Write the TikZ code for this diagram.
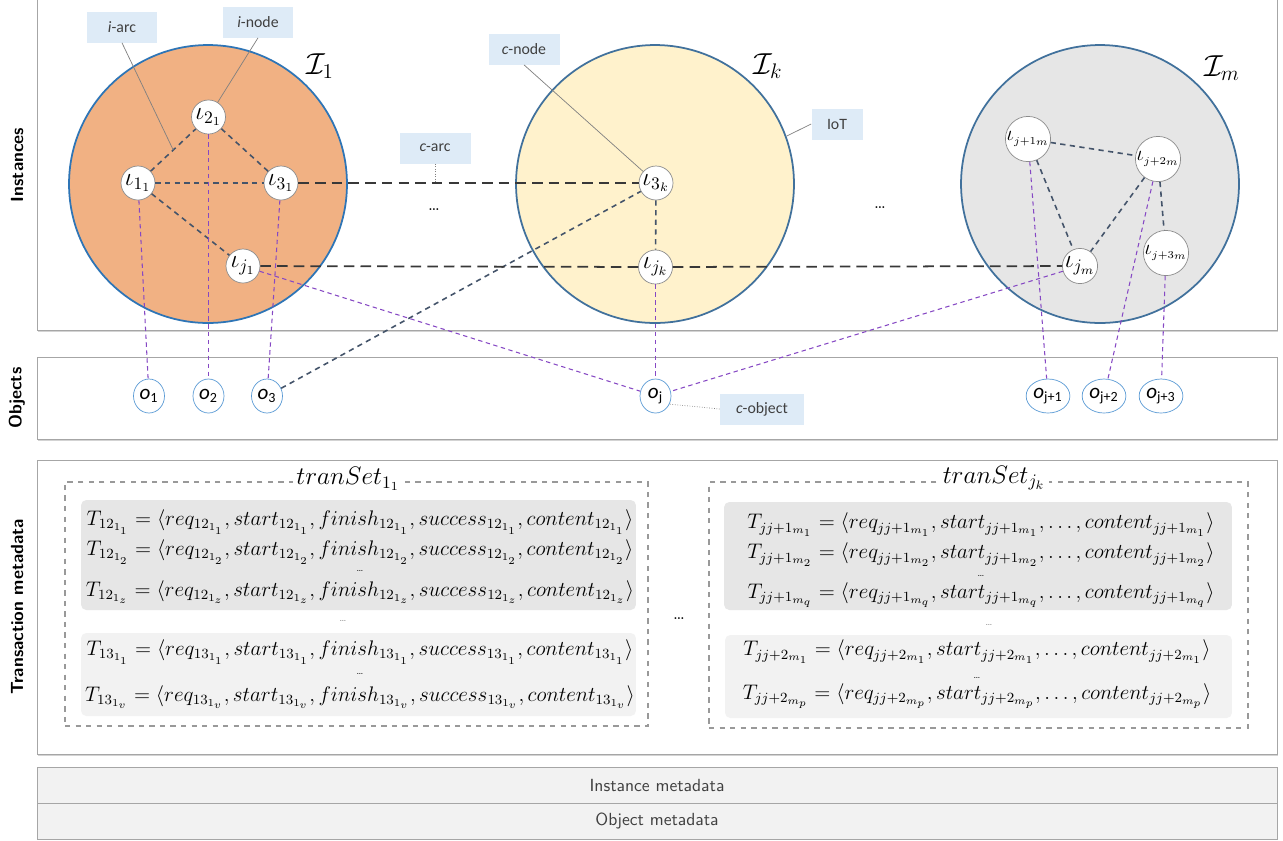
\documentclass[tikz,border=0pt]{standalone}
\usepackage{fontspec}
\newfontfamily\calib{Carlito}
\usepackage{tikz}
\usetikzlibrary{arrows.meta,positioning,shapes.geometric,shadows}
\definecolor{setorange}{RGB}{241,177,131}
\definecolor{setyellow}{RGB}{255,242,204}
\definecolor{setgray}{RGB}{230,230,230}
\definecolor{rimblue}{RGB}{46,117,182}
\definecolor{rimslate}{RGB}{65,113,156}
\definecolor{arcslate}{RGB}{68,84,106}
\definecolor{linkpurple}{RGB}{134,72,196}
\definecolor{objblue}{RGB}{91,155,213}
\definecolor{noteblue}{RGB}{222,235,247}
\definecolor{rowdark}{RGB}{230,230,230}
\definecolor{rowlight}{RGB}{242,242,242}
\definecolor{panelgray}{RGB}{166,166,166}
\newcommand{\trfull}[1]{$T_{#1}=\langle req_{#1},start_{#1},finish_{#1},success_{#1},content_{#1}\rangle$}
\newcommand{\trshort}[1]{$T_{#1}=\langle req_{#1},start_{#1},\ldots,content_{#1}\rangle$}
\tikzset{
  panel/.style={draw=panelgray, fill=white, minimum width=24.8cm, inner sep=0pt,
    drop shadow={shadow xshift=0.6pt, shadow yshift=-1.2pt, opacity=0.35}},
  bar/.style={draw=panelgray, fill=rowlight, minimum width=24.8cm, minimum height=0.72cm,
    inner sep=0pt, font=\sffamily, text=black!75},
  sidelabel/.style={rotate=90, font=\sffamily\bfseries},
  bigset/.style={circle, minimum size=5.56cm, inner sep=0pt, line width=1pt},
  setname/.style={font=\LARGE, inner sep=0pt},
  inst/.style={circle, draw=gray!90, fill=white, minimum size=0.68cm, inner sep=0pt, font=\Large},
  obj/.style={ellipse, draw=objblue, fill=white, minimum width=0.62cm, minimum height=0.68cm,
    inner sep=0.5pt, font=\calib\fontsize{12}{14}\selectfont},
  intra/.style={draw=arcslate, line width=0.9pt, dash pattern=on 3pt off 2.5pt},
  cross/.style={draw=black!78, line width=1pt, dash pattern=on 6pt off 3.5pt},
  link/.style={draw=linkpurple, line width=0.6pt, dash pattern=on 2.5pt off 2pt},
  pointer/.style={draw=gray, line width=0.4pt},
  notebox/.style={fill=noteblue, minimum width=1.42cm, minimum height=0.62cm, inner sep=1pt,
    font=\calib\small, text=black!75},
  setbox/.style={draw=gray!80, dashed, line width=0.7pt, inner sep=0pt},
  rowbox/.style={rounded corners=3pt, inner sep=0pt},
  tline/.style={font=\large, inner sep=0pt},
  rowdots/.style={font=\tiny, inner sep=0pt}
}

\begin{document}
\begin{tikzpicture}[x=0.02cm, y=-0.02cm]
  \useasboundingbox (0,0) rectangle (1283,840);
  % panels
  \node[panel, minimum height=6.72cm] (instpanel) at (657,162) {};
  \node[panel, minimum height=1.64cm] (objpanel) at (657,398) {};
  \node[panel, minimum height=5.88cm] (tranpanel) at (657,607) {};
  \node[bar] (instmeta) at (657,785) {Instance metadata};
  \node[bar] (objmeta) at (657,821) {Object metadata};
  \node[sidelabel] (lblinst) at (17,165) {Instances};
  \node[sidelabel] (lblobj) at (17,398) {Objects};
  \node[sidelabel] (lbltran) at (17,607) {Transaction metadata};

  % instance sets
  \node[bigset, fill=setorange, draw=rimblue] (I1) at (208,184) {};
  \node[bigset, fill=setyellow, draw=rimslate] (Ik) at (655,184) {};
  \node[bigset, fill=setgray, draw=rimslate] (Im) at (1100,184) {};
  \node[setname] (nI1) at (320,66) {$\mathcal{I}_1$};
  \node[setname] (nIk) at (768,66) {$\mathcal{I}_k$};
  \node[setname] (nIm) at (1222,68) {$\mathcal{I}_m$};
  \node (dots1) at (434,210) {\dots};
  \node (dots2) at (880,208) {\dots};

  % instances
  \node[inst] (i21) at (208.5,117) {$\iota_{2_1}$};
  \node[inst] (i11) at (138,183) {$\iota_{1_1}$};
  \node[inst] (i31) at (281,183) {$\iota_{3_1}$};
  \node[inst] (ij1) at (243,266) {$\iota_{j_1}$};
  \node[inst] (i3k) at (656,183) {$\iota_{3_k}$};
  \node[inst] (ijk) at (655.5,267) {$\iota_{j_k}$};
  \node[inst, minimum size=0.64cm, font=\large] (ij1m) at (1028,139) {$\iota_{\scriptscriptstyle j+1_m}$};
  \node[inst, minimum size=0.64cm, font=\large] (ij2m) at (1158,159) {$\iota_{\scriptscriptstyle j+2_m}$};
  \node[inst] (ijm) at (1080,266) {$\iota_{j_m}$};
  \node[inst, minimum size=0.64cm, font=\large] (ij3m) at (1166,253) {$\iota_{\scriptscriptstyle j+3_m}$};

  % objects
  \node[obj] (o1) at (149,396) {\textit{o}\textsubscript{1}};
  \node[obj] (o2) at (208.5,396) {\textit{o}\textsubscript{2}};
  \node[obj] (o3) at (267,396) {\textit{o}\textsubscript{3}};
  \node[obj] (oj) at (655.5,396) {\textit{o}\textsubscript{j}};
  \node[obj] (oj1) at (1048,396) {\textit{o}\textsubscript{j+1}};
  \node[obj] (oj2) at (1104,396) {\textit{o}\textsubscript{j+2}};
  \node[obj] (oj3) at (1161,396) {\textit{o}\textsubscript{j+3}};

  % arcs
  \draw[intra] (i11) -- (i21) coordinate[midway] (a1121);
  \draw[intra] (i21) -- (i31);
  \draw[intra] (i11) -- (i31);
  \draw[intra] (i11) -- (ij1);
  \draw[intra] (i3k) -- (ijk);
  \draw[intra] (ij1m) -- (ij2m);
  \draw[intra] (ij1m) -- (ijm);
  \draw[intra] (ij2m) -- (ijm);
  \draw[intra] (ij2m) -- (ij3m);
  \draw[intra] (o3) -- (i3k);
  \draw[cross] (i31) -- (i3k);
  \draw[cross] (ij1) -- (ijk);
  \draw[cross] (ijk) -- (ijm);
  \draw[link] (i11) -- (o1);
  \draw[link] (i21) -- (o2);
  \draw[link] (i31) -- (o3);
  \draw[link] (ij1) -- (oj);
  \draw[link] (ijk) -- (oj);
  \draw[link] (ijm) -- (oj);
  \draw[link] (ij1m) -- (oj1);
  \draw[link] (ij2m) -- (oj2);
  \draw[link] (ij3m) -- (oj3);

  % callouts
  \node[notebox] (iarc) at (122,27) {\textit{i}-arc};
  \node[notebox] (inode) at (258,22) {\textit{i}-node};
  \node[notebox] (cnode) at (524,49) {\textit{c}-node};
  \node[notebox, minimum width=1.02cm] (iot) at (837,124) {IoT};
  \node[notebox] (carc) at (435,148) {\textit{c}-arc};
  \node[notebox, minimum width=1.68cm] (cobj) at (762,409) {\textit{c}-object};
  \draw[pointer] (iarc.south) -- (a1121);
  \draw[pointer] (inode.south) -- (i21);
  \draw[pointer] (cnode.south) -- (i3k);
  \draw[pointer] (iot.west) -- (Ik.20);
  \draw[pointer, densely dotted] (carc.south) -- (carc.south |- i31);
  \draw[pointer, densely dotted] (cobj.west) -- (oj.-30);

  % transaction sets
  \node[setbox, minimum width=11.66cm, minimum height=4.88cm] (set1) at (356.5,604) {};
  \node[fill=white, font=\Large, inner sep=2pt] (set1name) at (348,479) {$tranSet_{1_1}$};
  \node[rowbox, fill=rowdark, minimum width=11.1cm, minimum height=2.2cm] (rows12) at (358.5,555) {};
  \node[rowbox, fill=rowlight, minimum width=11.1cm, minimum height=1.66cm] (rows13) at (358.5,674.5) {};
  \node[tline] (r121) at (360,522) {\trfull{12_{1_1}}};
  \node[tline] (r122) at (360,552) {\trfull{12_{1_2}}};
  \node[rowdots] (r12d) at (360,571) {\dots};
  \node[tline] (r12z) at (360,592) {\trfull{12_{1_z}}};
  \node[rowdots, text=gray] (gap1) at (343,621) {\dots};
  \node[tline] (r131) at (360,652) {\trfull{13_{1_1}}};
  \node[rowdots] (r13d) at (360,674) {\dots};
  \node[tline] (r13v) at (360,697) {\trfull{13_{1_v}}};

  \node (setgap) at (679,619) {\dots};

  \node[setbox, minimum width=10.78cm, minimum height=4.92cm] (setj) at (978.5,605) {};
  \node[fill=white, font=\Large, inner sep=2pt] (setjname) at (994,478) {$tranSet_{j_k}$};
  \node[rowbox, fill=rowdark, minimum width=10.16cm, minimum height=2.16cm] (rowsj1) at (978,556) {};
  \node[rowbox, fill=rowlight, minimum width=10.14cm, minimum height=1.66cm] (rowsj2) at (978.5,676.5) {};
  \node[tline] (rj11) at (981,525) {\trshort{jj+1_{m_1}}};
  \node[tline] (rj12) at (981,555) {\trshort{jj+1_{m_2}}};
  \node[rowdots] (rj1d) at (981,576) {\dots};
  \node[tline] (rj1q) at (981,595) {\trshort{jj+1_{m_q}}};
  \node[rowdots, text=gray] (gapj) at (989,625) {\dots};
  \node[tline] (rj21) at (977,652) {\trshort{jj+2_{m_1}}};
  \node[rowdots] (rj2d) at (977,678) {\dots};
  \node[tline] (rj2p) at (977,696) {\trshort{jj+2_{m_p}}};
\end{tikzpicture}
\end{document}
